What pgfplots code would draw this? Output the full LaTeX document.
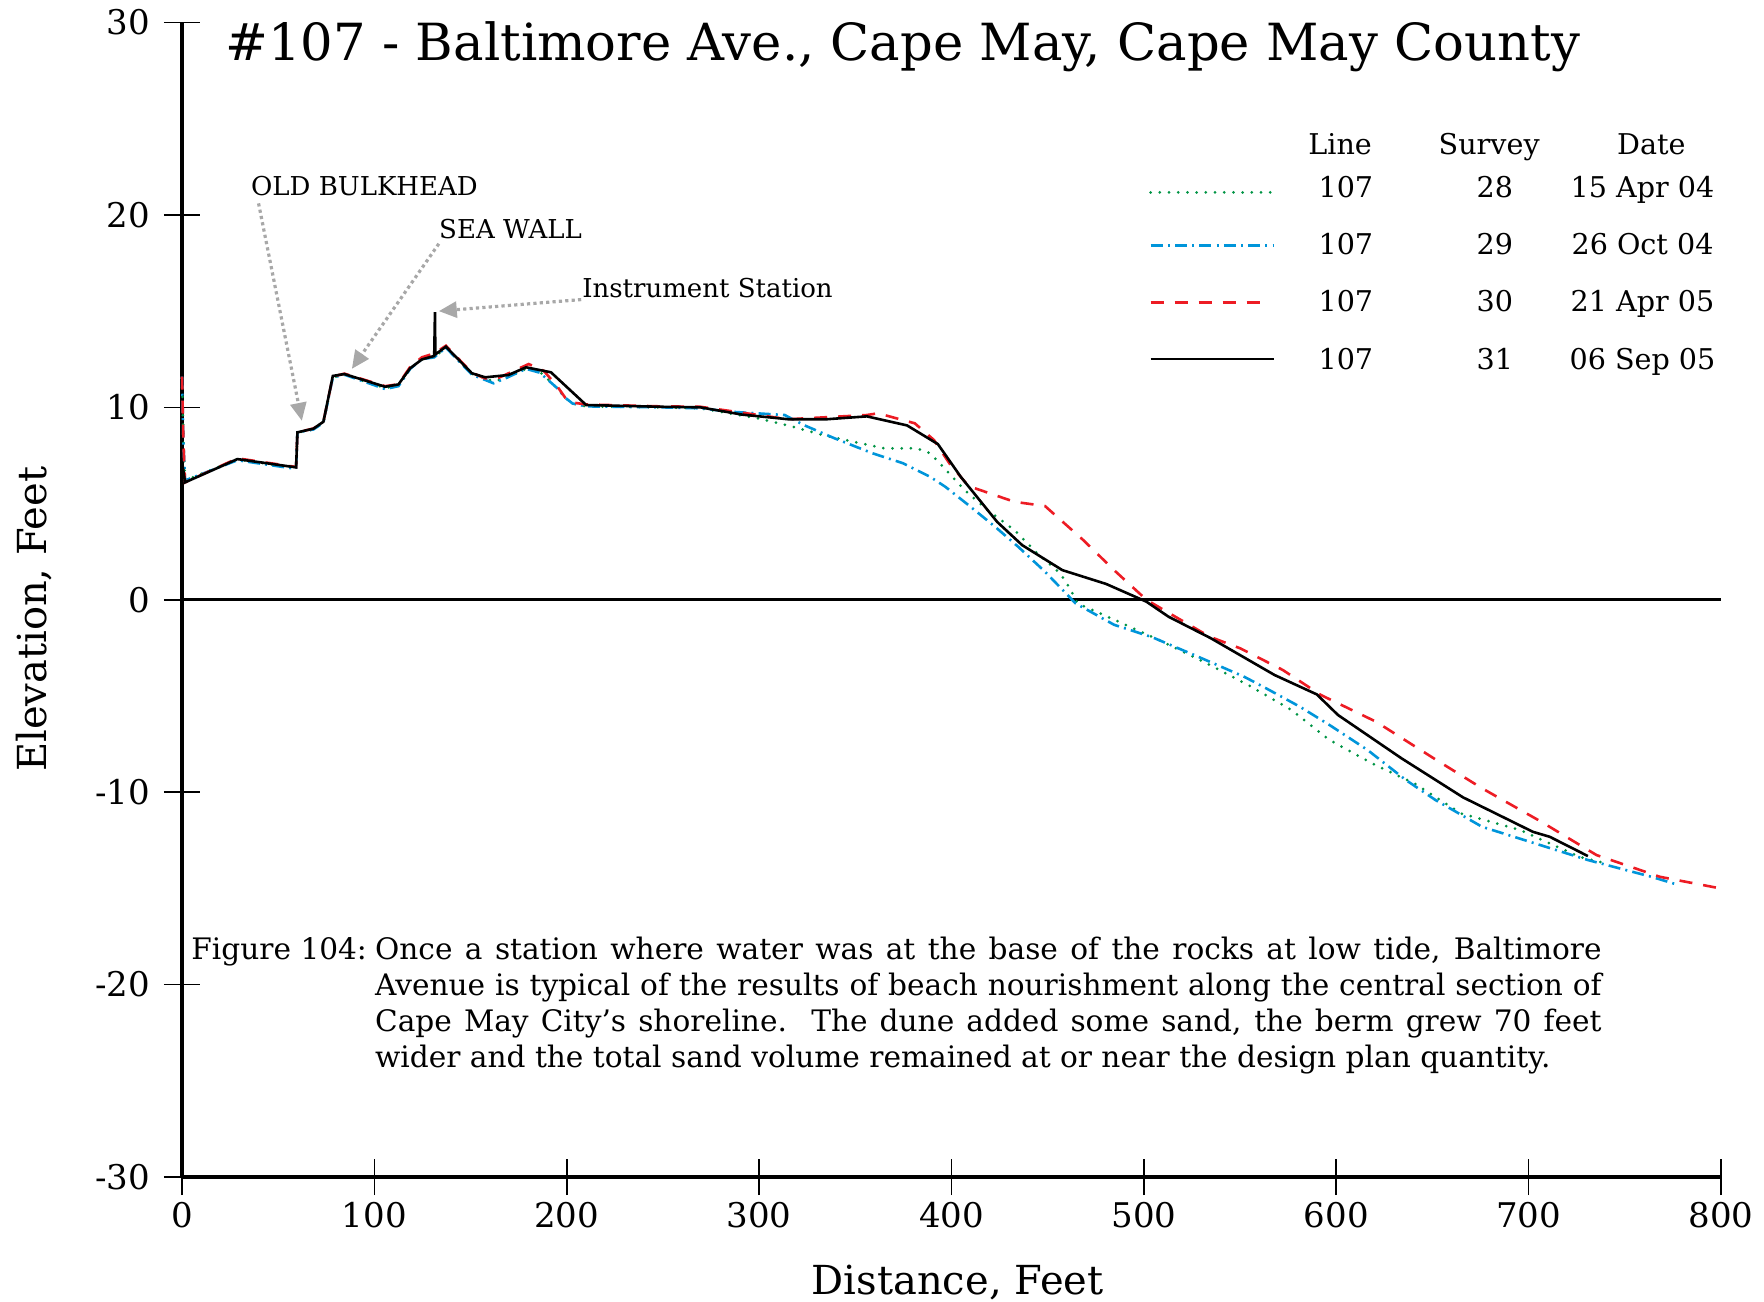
\documentclass[border=0pt]{standalone}
\usepackage{fontspec}
\setmainfont{DejaVu Serif}
\usepackage{pgfplots}
\pgfplotsset{compat=1.18}
\usetikzlibrary{arrows.meta}
\definecolor{sgreen}{HTML}{009444}
\definecolor{sblue}{HTML}{0095DA}
\definecolor{sred}{HTML}{ED1C24}
\definecolor{agray}{HTML}{A8A8A8}
\begin{document}
\begin{tikzpicture}
\begin{axis}[
  scale only axis, width=769.5pt, height=577.25pt,
  xmin=0, xmax=800, ymin=-30, ymax=30,
  axis lines=left,
  axis line style={-, line width=2pt, black},
  tick align=center,
  major tick length=18pt,
  every tick/.style={black, line width=0.8pt},
  xtick={0,100,...,800}, ytick={-30,-20,...,30},
  /pgf/number format/assume math mode=true,
  tick label style={font=\fontsize{17}{20}\selectfont},
  xticklabel style={anchor=north, inner sep=0pt, yshift=-3.6pt},
  yticklabel style={anchor=east, inner sep=0pt, xshift=-6.75pt},
  xlabel={Distance, Feet},
  xlabel style={at={(axis description cs:0.504,-0.1017)}, anchor=base, inner sep=0pt, font=\fontsize{20}{24}\selectfont},
  ylabel={Elevation, Feet},
  ylabel style={at={(axis description cs:-0.088,0.483)}, anchor=base, inner sep=0pt, font=\fontsize{20}{24}\selectfont},
  clip=false,
]
% zero line
\draw[black, line width=1.3pt] (axis cs:0,0) -- (axis cs:800,0);

% Survey 28 (15 Apr 04)
\addplot[sgreen, line width=1.5pt, line cap=round, dash pattern=on 0pt off 4.6pt] coordinates {
(0,11.5) (0.8,8) (1.6,6.2) (28.8,7.3) (59.3,6.85) (60,8.7) (68.3,8.85) (73.5,9.2) (78.4,11.55) (84.4,11.7)
(105.6,11.0) (112.5,11.15) (118.6,12.0) (124.7,12.5) (131.1,12.6) (137.2,13.1) (150.7,11.75) (161.9,11.35)
(168,11.5) (178.8,12.0) (186,11.85) (195,11.0) (199.2,10.5) (203,10.2) (210,10.05) (248.6,10.0) (269.4,9.95)
(299.3,9.43) (317.2,9.0) (333.2,8.56) (349.1,8.21) (365,7.87) (381.9,7.87) (388.9,7.61) (394.8,7.0)
(406.8,5.7) (418.7,4.66) (432.7,3.62) (444.6,2.41) (456.5,1.37) (461.5,0.59) (465.5,-0.19) (480.4,-0.85)
(508,-2.1) (532.6,-3.3) (555.8,-4.52) (576.7,-5.73) (596.5,-7.29) (618.5,-8.5) (640.5,-9.54) (664.7,-11.1)
(695.6,-11.97) (726.4,-13.36) (740,-13.7)
};
% Survey 29 (26 Oct 04)
\addplot[sblue, line width=1.3pt, dash pattern=on 6pt off 2.6pt on 1pt off 2.6pt] coordinates {
(0,11.6) (0.8,8) (1.6,6.2) (28.8,7.25) (59.3,6.8) (60,8.7) (68.3,8.85) (73.5,9.2) (78.4,11.55) (84.4,11.7)
(105.6,10.95) (112.5,11.1) (118.6,12.0) (124.7,12.5) (131.1,12.6) (137.2,13.1) (150.7,11.7) (161.9,11.25)
(168,11.5) (178.8,12.0) (186,11.8) (195,11.0) (199.2,10.5) (203,10.2) (210,10.05) (248.6,10.0) (269.4,9.95)
(285.4,9.77) (313.3,9.6) (323.2,9.08) (339.2,8.39) (359,7.61) (374.9,7.09) (388.9,6.39) (396.8,5.87)
(408.8,4.92) (422.7,3.79) (434.7,2.75) (448.6,1.46) (464.5,-0.19) (484.5,-1.3) (504.4,-1.95) (528.2,-2.96)
(552.1,-4.0) (563.5,-4.6) (581.1,-5.56) (596.5,-6.51) (616.3,-7.81) (636.2,-9.37) (651.6,-10.41)
(675.8,-11.8) (697.8,-12.49) (730.9,-13.53) (763.9,-14.4) (777.1,-14.8)
};
% Survey 30 (21 Apr 05)
\addplot[sred, line width=1.3pt, dash pattern=on 6.5pt off 5.5pt] coordinates {
(0,11.6) (0.8,8) (1.6,6.1) (28.8,7.35) (59.3,6.9) (60,8.7) (68.3,8.9) (73.5,9.25) (78.4,11.6) (84.4,11.75)
(105.6,11.1) (112.5,11.2) (118.6,12.1) (124.7,12.6) (131.1,12.8) (137.2,13.2) (150.7,11.8) (157.6,11.5)
(165,11.55) (180.2,12.25) (188,11.9) (195,11.1) (199.2,10.5) (203,10.25) (210,10.15) (248.6,10.05)
(269.4,10.03) (315.2,9.38) (356,9.6) (361.8,9.69) (380.9,9.17) (390.9,8.3) (398.9,7.09) (408.8,5.91)
(432.7,5.09) (448.6,4.87) (468.5,3.1) (484.5,1.54) (501.3,0) (516.3,-0.88) (534.2,-1.92) (550.2,-2.53)
(572.2,-3.65) (592,-4.95) (620.7,-6.34) (651.6,-8.3) (675.8,-9.8) (706.6,-11.54) (735.3,-13.27)
(768.3,-14.4) (799.6,-15.0)
};
% Survey 31 (06 Sep 05)
\addplot[black, line width=1.3pt] coordinates {
(0,7.2) (1.6,6.1) (28.8,7.31) (59.3,6.88) (60,8.7) (68.3,8.89) (73.5,9.25) (78.4,11.63) (84.4,11.73)
(105.6,11.07) (112.5,11.19) (118.6,12.03) (124.7,12.49) (131.1,12.67) (131.5,14.95) (131.7,12.75)
(137.2,13.15) (150.7,11.77) (157.6,11.56) (169.7,11.68) (178.8,12.08) (191.8,11.82) (210.1,10.12)
(248.6,10.03) (269.4,10.0) (291.3,9.62) (315.2,9.38) (335.1,9.38) (356.0,9.53) (376.9,9.06) (392.9,8.09)
(404.8,6.39) (423.7,4.05) (436.7,2.84) (457.6,1.54) (480.4,0.82) (501.3,-0.1) (512.8,-0.88) (534.8,-2.0)
(567.9,-3.91) (589.9,-4.92) (600.9,-5.99) (633.9,-8.24) (665.9,-10.27) (702.2,-12.06) (711,-12.32)
(730.8,-13.32)
};

% title
\node[anchor=base west, inner sep=0pt, font=\fontsize{25.6}{30}\selectfont] at (axis cs:22.4,28.0)
  {\#107 - Baltimore Ave., Cape May, Cape May County};

% legend
\begin{scope}[every node/.style={anchor=base, inner sep=0pt, font=\fontsize{14.3}{17}\selectfont}]
\node at (axis cs:602,23.16) {Line};
\node at (axis cs:679.5,23.16) {Survey};
\node at (axis cs:763.8,23.16) {Date};
\node at (axis cs:605,20.93) {107};
\node at (axis cs:682.4,20.93) {28};
\node at (axis cs:759.2,20.93) {15 Apr 04};
\node at (axis cs:605,17.95) {107};
\node at (axis cs:682.4,17.95) {29};
\node at (axis cs:759.2,17.95) {26 Oct 04};
\node at (axis cs:605,14.97) {107};
\node at (axis cs:682.4,14.97) {30};
\node at (axis cs:759.2,14.97) {21 Apr 05};
\node at (axis cs:605,11.99) {107};
\node at (axis cs:682.4,11.99) {31};
\node at (axis cs:759.2,11.99) {06 Sep 05};
\end{scope}
\draw[sgreen, line width=1.5pt, line cap=round, dash pattern=on 0pt off 4.6pt] (axis cs:503.5,21.17) -- (axis cs:567.8,21.17);
\draw[sblue, line width=1.3pt, dash pattern=on 6pt off 2.6pt on 1pt off 2.6pt] (axis cs:503.5,18.42) -- (axis cs:567.8,18.42);
\draw[sred, line width=1.3pt, dash pattern=on 6.5pt off 5.5pt] (axis cs:503.5,15.44) -- (axis cs:565,15.44);
\draw[black, line width=1.3pt] (axis cs:503.5,12.52) -- (axis cs:567.8,12.52);

% annotations
\begin{scope}[every node/.style={anchor=base west, inner sep=0pt, font=\fontsize{13}{16}\selectfont}]
\node at (axis cs:35.7,21.0) {OLD BULKHEAD};
\node at (axis cs:133.5,18.77) {SEA WALL};
\node at (axis cs:207.9,15.73) {Instrument Station};
\end{scope}
\begin{scope}[agray, line width=1.6pt, dash pattern=on 1.6pt off 1.6pt]
\draw[-{Triangle[length=9pt,width=8pt]}] (axis cs:39.8,20.6) -- (axis cs:62.3,9.3);
\draw[-{Triangle[length=9pt,width=8pt]}] (axis cs:133.5,18.5) -- (axis cs:88.3,12.0);
\draw[-{Triangle[length=9pt,width=8pt]}] (axis cs:207.5,15.6) -- (axis cs:133.5,15.0);
\end{scope}

% caption
\begin{scope}[every node/.style={anchor=base west, inner sep=0pt, font=\fontsize{14.8}{18}\selectfont}]
\node at (axis cs:4.7,-18.71) {Figure 104:};
\node at (axis cs:100.2,-18.71) {\makebox[613.2pt][s]{Once a station where water was at the base of the rocks at low tide, Baltimore}};
\node at (axis cs:100.2,-20.58) {\makebox[613.2pt][s]{Avenue is typical of the results of beach nourishment along the central section of}};
\node at (axis cs:100.2,-22.45) {\makebox[613.2pt][s]{Cape May City’s shoreline.\ \ The dune added some sand, the berm grew 70 feet}};
\node at (axis cs:100.2,-24.32) {wider and the total sand volume remained at or near the design plan quantity.};
\end{scope}
\end{axis}
\pgfresetboundingbox
\path[use as bounding box] (-91pt,-62pt) rectangle (791pt,588.5pt);
\end{tikzpicture}
\end{document}
